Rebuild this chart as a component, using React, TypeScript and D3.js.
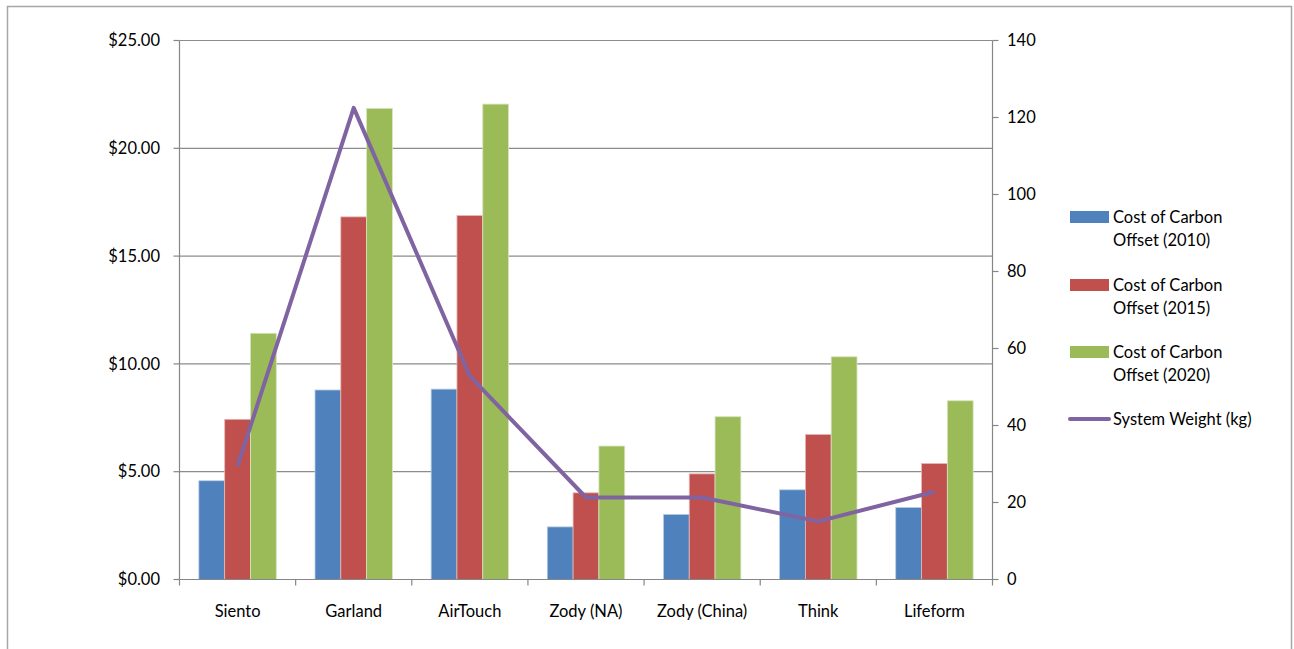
import React from "react";
import * as d3 from "d3";

const categories = ["Siento", "Garland", "AirTouch", "Zody (NA)", "Zody (China)", "Think", "Lifeform"];
const cost2010 = [4.58, 8.79, 8.83, 2.44, 3.02, 4.16, 3.34];
const cost2015 = [7.43, 16.82, 16.88, 4.02, 4.9, 6.73, 5.38];
const cost2020 = [11.42, 21.85, 22.05, 6.19, 7.55, 10.33, 8.29];
const systemWeight = [29.5, 122.5, 52.8, 21.3, 21.3, 15.1, 22.8];
const leftTicks = [0, 5, 10, 15, 20, 25];
const rightTicks = [0, 20, 40, 60, 80, 100, 120, 140];
const seriesNames = ["Cost of Carbon Offset (2010)", "Cost of Carbon Offset (2015)", "Cost of Carbon Offset (2020)"];
const lineName = "System Weight (kg)";

const W = 1294;
const H = 649;
const colors = ["#4F81BD", "#C0504D", "#9BBB59"];
const strokeColors = ["#b9cde5", "#e6b9b8", "#d7e4bd"];
const lineColor = "#8064A2";
const FONT = "Lato, 'Open Sans', sans-serif";

export default function App() {
  const left = 179.5;
  const right = 992.5;
  const top = 40.5;
  const bottom = 579.5;

  const x = d3.scaleBand<string>().domain(categories).range([left, right]).padding(0);
  const bw = x.bandwidth();
  const barW = bw / 4.5;
  const inner = d3
    .scaleBand<number>()
    .domain([0, 1, 2])
    .range([barW * 0.75, barW * 3.75])
    .padding(0);
  const yL = d3.scaleLinear().domain([0, 25]).range([bottom, top]);
  const yR = d3.scaleLinear().domain([0, 140]).range([bottom, top]);

  const series = [cost2010, cost2015, cost2020];
  const fmt = d3.format("$.2f");

  const line = d3
    .line<number>()
    .x((_, i) => (x(categories[i]) as number) + bw / 2)
    .y((d) => yR(d));

  const legendX = 1070;
  const legendItems = [
    { y: 217, label: ["Cost of Carbon", "Offset (2010)"] },
    { y: 285, label: ["Cost of Carbon", "Offset (2015)"] },
    { y: 352, label: ["Cost of Carbon", "Offset (2020)"] },
  ];

  return (
    <svg
      width={W}
      height={H}
      style={{ position: "absolute", left: 0, top: 0, background: "#fff" }}
      fontFamily={FONT}
    >
      <rect x={7.5} y={6.5} width={1284} height={700} fill="#fff" stroke="#a6a6a6" strokeWidth={1.5} />

      {/* gridlines */}
      {leftTicks.map((t) => (
        <line key={"g" + t} x1={left} x2={right} y1={yL(t)} y2={yL(t)} stroke="#8c8c8c" strokeWidth={1.2} />
      ))}

      {/* bars */}
      {series.map((s, si) =>
        s.map((v, ci) => (
          <rect
            key={si + "-" + ci}
            x={(x(categories[ci]) as number) + (inner(si) as number)}
            y={yL(v)}
            width={inner.bandwidth()}
            height={yL(0) - yL(v)}
            fill={colors[si]}
            stroke={strokeColors[si]}
            strokeWidth={0.8}
          />
        ))
      )}

      {/* line */}
      <path d={line(systemWeight) as string} fill="none" stroke={lineColor} strokeWidth={4} strokeLinejoin="round" />

      {/* axes */}
      <line x1={left} x2={left} y1={top} y2={bottom} stroke="#868686" strokeWidth={1.2} />
      <line x1={right} x2={right} y1={top} y2={bottom} stroke="#868686" strokeWidth={1.2} />
      <line x1={left} x2={right} y1={bottom} y2={bottom} stroke="#868686" strokeWidth={1.2} />
      {leftTicks.map((t) => (
        <g key={"lt" + t}>
          <line x1={left - 6} x2={left} y1={yL(t)} y2={yL(t)} stroke="#868686" strokeWidth={1.2} />
          <text x={160} y={yL(t)} dy="0.35em" textAnchor="end" fontSize={16.5} fill="#000">
            {fmt(t)}
          </text>
        </g>
      ))}
      {rightTicks.map((t) => (
        <g key={"rt" + t}>
          <line x1={right} x2={right + 6} y1={yR(t)} y2={yR(t)} stroke="#868686" strokeWidth={1.2} />
          <text x={1007} y={yR(t)} dy="0.35em" textAnchor="start" fontSize={16.5} fill="#000">
            {t}
          </text>
        </g>
      ))}
      {categories.map((c, i) => (
        <g key={"c" + c}>
          <line
            x1={(x(c) as number)}
            x2={(x(c) as number)}
            y1={bottom}
            y2={bottom + 6}
            stroke="#868686"
            strokeWidth={1.2}
          />
          <text x={(x(c) as number) + bw / 2} y={611} dy="0.35em" textAnchor="middle" fontSize={16.5} fill="#000">
            {c}
          </text>
        </g>
      ))}
      <line x1={right} x2={right} y1={bottom} y2={bottom + 6} stroke="#868686" strokeWidth={1.2} />

      {/* legend */}
      {legendItems.map((it, i) => (
        <g key={"lg" + i}>
          <rect x={legendX} y={it.y - 6} width={39} height={12} fill={colors[i]} />
          <text x={1113} y={it.y} dy="0.35em" fontSize={16.5} fill="#000" aria-label={seriesNames[i]}>
            {it.label[0]}
          </text>
          <text x={1113} y={it.y + 23} dy="0.35em" fontSize={16.5} fill="#000">
            {it.label[1]}
          </text>
        </g>
      ))}
      <line x1={legendX} x2={legendX + 39} y1={419} y2={419} stroke={lineColor} strokeWidth={4} strokeLinecap="round" />
      <text x={1113} y={419} dy="0.35em" fontSize={16.5} fill="#000">
        {lineName}
      </text>
    </svg>
  );
}
